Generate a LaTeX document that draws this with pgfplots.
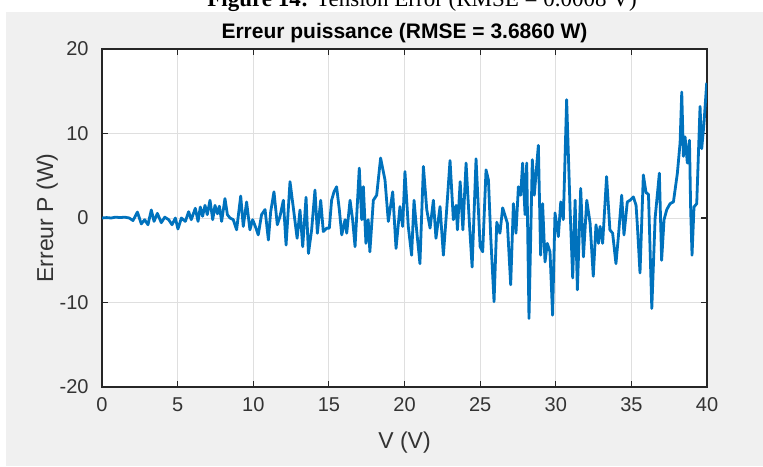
\documentclass[border=0pt]{standalone}
\usepackage{pgfplots}
\pgfplotsset{compat=1.18}
\usepackage{fontspec}
\setmainfont{Liberation Sans}
\newfontfamily\capfont{Liberation Serif}
\definecolor{bgray}{HTML}{F0F0F0}
\definecolor{axc}{HTML}{262626}
\definecolor{txt}{HTML}{333333}
\definecolor{mblue}{HTML}{0072BD}
\definecolor{gridc}{HTML}{DFDFDF}
\pgfplotstableread{
x y
0 0
0.3 0.05
0.6 0.0
0.9 0.1
1.2 0.05
1.5 0.1
1.8 0.0
2.05 -0.3
2.34 0.7
2.6 -0.7
2.82 -0.2
3.04 -0.8
3.26 0.95
3.44 -0.4
3.66 0.55
3.92 -0.55
4.15 0.1
4.41 -0.2
4.63 -0.8
4.85 0
5.02 -1.3
5.25 0
5.51 -0.4
5.73 0.75
5.9 -0.2
6.17 1.15
6.35 -0.4
6.5 1.3
6.65 0.2
6.81 1.5
6.96 0.4
7.14 2.1
7.32 -0.2
7.47 1.5
7.63 0.5
7.76 1.4
7.91 -0.4
8.13 2.3
8.29 0.4
8.46 0
8.68 -0.2
8.9 -1.4
9.17 2.6
9.34 -1.0
9.56 1.9
9.78 -1.4
9.96 -0.2
10.18 -1.2
10.33 -2.0
10.55 0.4
10.78 1.0
11.0 -2.6
11.15 0.7
11.37 3.1
11.59 -0.8
11.77 0.2
11.99 2.1
12.17 -3.2
12.43 4.3
12.65 1.2
12.9 -2.4
13.09 0.95
13.27 -3.4
13.49 2.45
13.65 -4.2
13.86 -1.4
14.08 3.3
14.24 -1.8
14.46 2.1
14.63 -1.6
14.86 -1.2
15.03 -1.2
15.18 2.1
15.34 3.1
15.51 3.7
15.69 1.0
15.85 -2.0
16.07 -0.2
16.18 -1.8
16.4 2.1
16.57 -0.2
16.73 -3.4
17.01 5.9
17.17 -0.2
17.28 3.7
17.45 -3.0
17.6 -0.2
17.71 -4.0
17.94 2.1
18.16 2.7
18.42 7.1
18.71 4.5
18.93 -0.4
19.22 3.1
19.44 -3.6
19.7 1.35
19.88 -1.0
20.03 5.5
20.25 -1.0
20.47 -4.4
20.63 2.1
20.8 -1.4
21.02 -5.4
21.25 6.1
21.47 1.0
21.69 -1.2
21.91 2.1
22.08 -2.4
22.35 1.35
22.57 -4.4
22.75 0
23.01 6.8
23.23 -0.2
23.41 1.5
23.5 -1.4
23.68 4.3
23.86 -1.4
24.07 6.5
24.29 -0.6
24.47 -5.8
24.73 7.0
25.0 -3.4
25.17 -4.0
25.39 5.7
25.55 4.5
25.7 -2.2
25.92 -9.9
26.1 -0.5
26.31 -1.8
26.49 1.2
26.8 -0.6
27.02 -7.9
27.2 1.7
27.37 -1.8
27.53 3.7
27.68 2.7
27.81 6.5
27.97 0.4
28.08 6.5
28.23 -11.9
28.45 6.9
28.58 2.7
28.85 8.6
29.0 -4.4
29.13 1.7
29.29 -5.2
29.44 -3.0
29.62 -4.0
29.79 -11.5
29.95 0.6
30.17 -2.2
30.33 1.9
30.5 -0.2
30.72 14.0
30.95 0.9
31.12 -7.1
31.28 2.1
31.43 -8.5
31.65 3.5
31.83 -4.6
32.05 2.1
32.27 -0.6
32.48 -6.9
32.66 -0.8
32.82 -3.0
32.93 -1.0
33.1 -3.0
33.36 4.9
33.58 -1.4
33.76 -1.8
33.98 -5.4
34.14 -2.2
34.36 2.7
34.51 -2.0
34.73 1.9
34.91 2.1
35.13 2.5
35.31 1.5
35.4 -1.0
35.57 -6.5
35.79 5.1
35.97 3.0
36.13 2.8
36.35 -10.7
36.57 0
36.85 5.3
37.0 -5.0
37.16 -0.2
37.34 1.0
37.56 1.7
37.78 1.9
38.04 5.3
38.22 8.9
38.33 14.9
38.44 7.3
38.55 9.6
38.7 6.5
38.84 9.2
38.92 1.0
39.01 -4.4
39.14 1.3
39.32 1.7
39.54 13.2
39.65 8.2
39.8 11.2
39.98 16.0
}\err
\begin{document}
\begin{tikzpicture}
\useasboundingbox (0pt,0pt) rectangle (381.5pt,233pt);
\fill[white] (0pt,0pt) rectangle (381.5pt,233pt);
\fill[bgray] (3pt,0pt) rectangle (381.5pt,227pt);
\node[anchor=base, inner sep=0pt, font=\capfont\fontsize{11.5}{13}\selectfont] at (211pt,229.5pt) {\textbf{Figure 14:} Tension Error (RMSE = 0.0008 V)};
\begin{axis}[
  at={(51pt,39.5pt)}, anchor=south west,
  scale only axis, width=302.5pt, height=169pt,
  axis background/.style={fill=white},
  xmin=0, xmax=40, ymin=-20, ymax=20,
  xtick={0,5,...,40}, ytick={-20,-10,0,10,20},
  grid=major, major grid style={gridc, line width=0.5pt},
  axis line style={axc, line width=0.8pt},
  tick align=inside, tick pos=both, major tick length=3pt,
  every tick/.style={axc, line width=0.6pt},
  /pgf/number format/assume math mode=true,
  ticklabel style={font=\fontsize{10}{12}\selectfont, text=txt},
  xticklabel style={anchor=north, inner sep=0pt, yshift=-5pt},
  yticklabel style={anchor=east, inner sep=0pt, xshift=-6.5pt},
  title={Erreur puissance (RMSE = 3.6860 W)},
  title style={at={(axis description cs:0.5,0.997)}, anchor=base, inner sep=0pt, font=\bfseries\fontsize{10.5}{12}\selectfont, text=black},
  xlabel={V (V)},
  xlabel style={at={(axis description cs:0.5,-0.1805)}, anchor=base, inner sep=0pt, font=\fontsize{11.5}{13}\selectfont, text=txt},
  ylabel={Erreur P (W)},
  ylabel style={at={(axis description cs:-0.081,0.5)}, anchor=base, inner sep=0pt, font=\fontsize{11.5}{13}\selectfont, text=txt},
]
\addplot[mblue, line width=1.4pt, line join=round] table[x=x,y=y] {\err};
\end{axis}
\end{tikzpicture}
\end{document}
